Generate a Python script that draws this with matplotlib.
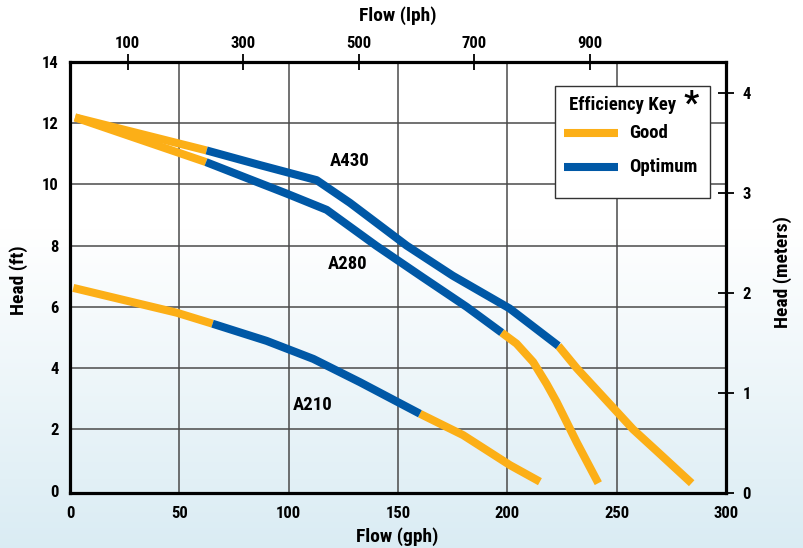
import matplotlib.pyplot as plt
import numpy as np
from matplotlib import font_manager
from matplotlib.patches import Rectangle

# pump curves: flow (gph) vs head (ft)
a430_gph = [2.3, 62.5, 87.0, 112.8, 128.0, 154.0, 175.0, 201.0, 223.3, 231.7, 257.5, 268.2, 284.3]
a430_ft = [12.19, 11.11, 10.63, 10.14, 9.40, 8.00, 7.02, 5.95, 4.73, 4.00, 2.00, 1.30, 0.24]
a430_opt = (1, 8)  # index range of the optimum part

a280_gph = [2.3, 62.2, 80.8, 99.1, 117.4, 140.0, 161.0, 181.4, 197.4, 204.2, 211.8, 218.0, 222.5, 231.7, 241.6]
a280_ft = [12.19, 10.73, 10.21, 9.70, 9.17, 8.00, 6.98, 6.00, 5.16, 4.80, 4.20, 3.48, 2.90, 1.58, 0.24]
a280_opt = (1, 8)

a210_gph = [1.5, 48.8, 65.2, 89.9, 111.3, 132.6, 160.0, 179.8, 201.2, 214.9]
a210_ft = [6.62, 5.81, 5.45, 4.89, 4.30, 3.54, 2.51, 1.81, 0.83, 0.29]
a210_opt = (2, 6)

pump_names = ['A430', 'A280', 'A210']
label_pos = [(128, 10.75), (127, 7.4), (111, 2.8)]

x_ticks = [0, 50, 100, 150, 200, 250, 300]
y_ticks = [0, 2, 4, 6, 8, 10, 12, 14]
lph_ticks = [100, 300, 500, 700, 900]
m_ticks = [0, 1, 2, 3, 4]

good_col = '#fcaf17'
opt_col = '#0058a6'
grid_col = '#4a4a4a'

# look for a condensed bold face, the original uses a narrow grotesque
fam = None
for name in ['Liberation Sans Narrow', 'Roboto Condensed', 'Open Sans Condensed',
             'Noto Sans', 'DejaVu Sans', 'Open Sans', 'Roboto', 'Inter']:
    for f in font_manager.fontManager.ttflist:
        if f.name == name and 'condensed' in str(f.stretch) and str(f.weight) in ('700', 'bold'):
            fam = name
            break
    if fam:
        break
if fam:
    plt.rcParams['font.family'] = [fam, 'DejaVu Sans']
    plt.rcParams['font.stretch'] = 'condensed'
else:
    plt.rcParams['font.family'] = ['Roboto', 'DejaVu Sans']
W = 'heavy'
plt.rcParams['font.weight'] = W

fig = plt.figure(figsize=(8.04, 5.48), dpi=100)

# background gradient white -> light blue
bg = fig.add_axes([0, 0, 1, 1], zorder=-10)
yy = np.linspace(0, 1, 300)
t = np.clip((0.58 - yy) / 0.58, 0, 1)
top = np.array([1.0, 1.0, 1.0])
bot = np.array([0.855, 0.925, 0.955])
grad = top[None, :] * (1 - t[:, None]) + bot[None, :] * t[:, None]
bg.imshow(grad[:, None, :], aspect='auto', extent=[0, 1, 0, 1], origin='lower')
bg.axis('off')

ax = fig.add_axes([70 / 804, 1 - 493 / 548, 656 / 804, 431 / 548])
ax.set_facecolor('none')
ax.set_xlim(0, 300)
ax.set_ylim(-0.08, 14.0)

for v in [50, 100, 150, 200, 250]:
    ax.axvline(v, color=grid_col, lw=1.1, zorder=1)
for v in [2, 4, 6, 8, 10, 12]:
    ax.axhline(v, color=grid_col, lw=1.1, zorder=1)

lw = 5.8
curves = [(a430_gph, a430_ft, a430_opt), (a280_gph, a280_ft, a280_opt), (a210_gph, a210_ft, a210_opt)]
for gx, hy, (i0, i1) in curves:
    ax.plot(gx[:i0 + 1], hy[:i0 + 1], color=good_col, lw=lw, solid_capstyle='butt', solid_joinstyle='round', zorder=3)
    ax.plot(gx[i1:], hy[i1:], color=good_col, lw=lw, solid_capstyle='butt', solid_joinstyle='round', zorder=3)
    ax.plot(gx[i0:i1 + 1], hy[i0:i1 + 1], color=opt_col, lw=lw, solid_capstyle='butt', solid_joinstyle='round', zorder=4)

for name, (px, py) in zip(pump_names, label_pos):
    ax.text(px, py, name, fontsize=13.5, fontweight=W, ha='center', va='center', zorder=5)

ax.set_xticks(x_ticks)
ax.set_yticks(y_ticks)
ax.tick_params(axis='both', length=0, labelsize=12)
ax.tick_params(axis='x', pad=9)
ax.tick_params(axis='y', pad=8)
for s in ax.spines.values():
    s.set_linewidth(2.3)
    s.set_zorder(6)

ax.set_xlabel('Flow (gph)', fontsize=14, fontweight=W)
ax.xaxis.set_label_coords(0.4985, -0.080)
ax.set_ylabel('Head (ft)', fontsize=14, fontweight=W)
ax.yaxis.set_label_coords(-0.064, 0.494)

# top axis in liters per hour
top_ax = ax.secondary_xaxis('top', functions=(lambda g: g * 3.785, lambda l: l / 3.785))
top_ax.set_xticks(lph_ticks)
top_ax.tick_params(direction='inout', length=12, width=1.3, labelsize=12, pad=2)
top_ax.set_xlabel('Flow (lph)', fontsize=14, fontweight=W, labelpad=11)

# right axis in meters
rax = ax.twinx()
rax.set_ylim(0, 4.31)
rax.set_yticks(m_ticks)
rax.tick_params(direction='inout', length=12, width=1.3, labelsize=12, pad=6)
for s in rax.spines.values():
    s.set_visible(False)
rax.set_ylabel('Head (meters)', fontsize=14, fontweight=W)
rax.yaxis.set_label_coords(1.072, 0.513)

# efficiency key box
ax.add_patch(Rectangle((0.739, 0.684), 0.237, 0.260, transform=ax.transAxes,
                       facecolor='white', edgecolor='#333333', lw=1.0, zorder=7))
ax.text(0.843, 0.900, 'Efficiency Key', transform=ax.transAxes, fontsize=13.5,
        fontweight=W, ha='center', va='center', zorder=8)
ax.text(0.947, 0.902, '*', transform=ax.transAxes, fontsize=24,
        fontweight=W, ha='center', va='center', zorder=8)
ax.plot([0.753, 0.835], [0.835, 0.835], transform=ax.transAxes, color=good_col,
        lw=lw, solid_capstyle='butt', zorder=8)
ax.plot([0.753, 0.835], [0.756, 0.756], transform=ax.transAxes, color=opt_col,
        lw=lw, solid_capstyle='butt', zorder=8)
ax.text(0.852, 0.835, 'Good', transform=ax.transAxes, fontsize=13.5,
        fontweight=W, ha='left', va='center', zorder=8)
ax.text(0.852, 0.756, 'Optimum', transform=ax.transAxes, fontsize=13.5,
        fontweight=W, ha='left', va='center', zorder=8)

fig.savefig('out.png', dpi=100)
